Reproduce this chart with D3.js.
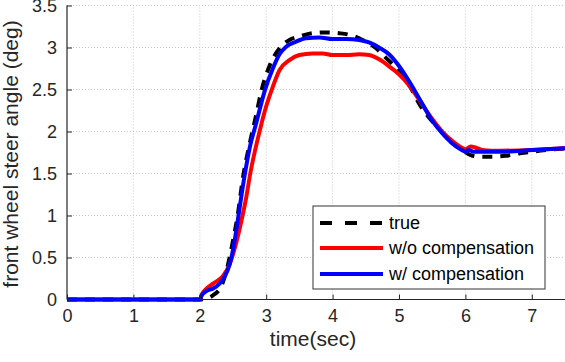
<!DOCTYPE html>
<html>
<head>
<meta charset="utf-8">
<script src="https://cdn.jsdelivr.net/npm/d3@7"></script>
<style>
  body { margin: 0; background: #fff; }
  svg { display: block; font-family: Arial, "Liberation Sans", sans-serif; }
</style>
</head>
<body>
<script>
// time (sec) and steer angle (deg)
var trueT = [0, 2.0, 2.1, 2.2, 2.33, 2.42, 2.5, 2.57, 2.65, 2.75, 2.85, 2.93, 3.05, 3.21, 3.35, 3.5, 3.7, 3.9, 4.1, 4.26, 4.45, 4.64, 4.8, 5.0, 5.17, 5.32, 5.47, 5.62, 5.75, 5.84, 5.95, 6.08, 6.22, 6.4, 6.6, 6.82, 7.0, 7.5];
var trueV = [0, 0, 0.01, 0.05, 0.17, 0.4, 0.7, 1.0, 1.45, 1.85, 2.2, 2.49, 2.78, 3.0, 3.09, 3.13, 3.17, 3.18, 3.17, 3.15, 3.09, 3.0, 2.88, 2.72, 2.53, 2.31, 2.15, 2.02, 1.9, 1.84, 1.78, 1.72, 1.70, 1.70, 1.71, 1.74, 1.76, 1.80];

var woT = [0, 2.0, 2.03, 2.1, 2.2, 2.35, 2.45, 2.55, 2.63, 2.7, 2.76, 2.9, 3.0, 3.08, 3.2, 3.35, 3.5, 3.7, 3.85, 4.0, 4.2, 4.4, 4.55, 4.7, 4.86, 5.0, 5.15, 5.3, 5.5, 5.65, 5.8, 5.92, 6.0, 6.08, 6.15, 6.25, 6.4, 7.0, 7.5];
var woV = [0, 0, 0.06, 0.13, 0.19, 0.28, 0.42, 0.68, 0.95, 1.22, 1.5, 2.0, 2.3, 2.49, 2.73, 2.85, 2.91, 2.93, 2.93, 2.91, 2.91, 2.92, 2.91, 2.86, 2.77, 2.68, 2.55, 2.38, 2.15, 2.0, 1.89, 1.82, 1.79, 1.82, 1.81, 1.78, 1.77, 1.78, 1.80];

var wT = [0, 2.0, 2.03, 2.1, 2.2, 2.3, 2.38, 2.45, 2.5, 2.57, 2.62, 2.68, 2.75, 2.85, 2.98, 3.1, 3.2, 3.3, 3.45, 3.6, 3.8, 4.0, 4.2, 4.4, 4.55, 4.7, 4.85, 5.0, 5.15, 5.3, 5.5, 5.65, 5.8, 5.92, 6.0, 6.05, 6.12, 6.3, 6.6, 7.0, 7.5];
var wV = [0, 0, 0.05, 0.1, 0.13, 0.19, 0.28, 0.42, 0.59, 0.93, 1.2, 1.5, 1.8, 2.1, 2.49, 2.75, 2.92, 3.01, 3.07, 3.11, 3.12, 3.10, 3.10, 3.09, 3.06, 3.0, 2.92, 2.78, 2.6, 2.4, 2.13, 1.98, 1.86, 1.79, 1.76, 1.78, 1.76, 1.76, 1.76, 1.78, 1.80];

var xTicks = [0, 1, 2, 3, 4, 5, 6, 7];
var yTicks = [0, 0.5, 1, 1.5, 2, 2.5, 3, 3.5];
var seriesNames = ['true', 'w/o compensation', 'w/ compensation'];

var w = 565, h = 362;
var svg = d3.select('body').append('svg').attr('width', w).attr('height', h);

var x = d3.scaleLinear().domain([0, 7.5]).range([67, 565]);
var y = d3.scaleLinear().domain([0, 3.5]).range([299.5, 5.5]);

// grid
svg.append('g').selectAll('line').data(xTicks.slice(1)).enter().append('line')
  .attr('x1', function(d){ return x(d); }).attr('x2', function(d){ return x(d); })
  .attr('y1', y(0)).attr('y2', y(3.5))
  .style('stroke', '#c8c8c8').style('stroke-dasharray', '1,2');
svg.append('g').selectAll('line').data(yTicks.slice(1)).enter().append('line')
  .attr('x1', x(0)).attr('x2', w)
  .attr('y1', function(d){ return y(d); }).attr('y2', function(d){ return y(d); })
  .style('stroke', '#c8c8c8').style('stroke-dasharray', '1,2');

var line = d3.line()
  .x(function(d){ return x(d[0]); })
  .y(function(d){ return y(d[1]); })
  .curve(d3.curveMonotoneX);

var series = [
  { pts: d3.zip(trueT, trueV), color: '#000', dash: '10,8' },
  { pts: d3.zip(woT, woV), color: '#ff0000', dash: null },
  { pts: d3.zip(wT, wV), color: '#0000ff', dash: null }
];

series.forEach(function(s){
  svg.append('path')
     .attr('d', line(s.pts))
     .style('fill', 'none')
     .style('stroke', s.color)
     .style('stroke-width', 4)
     .style('stroke-dasharray', s.dash);
});

// axes
var xAxis = d3.axisBottom(x).tickValues(xTicks).tickSize(-5).tickPadding(10).tickFormat(d3.format('d'));
var yAxis = d3.axisLeft(y).tickValues(yTicks).tickSize(-5).tickPadding(10).tickFormat(function(d){ return d; });

var gx = svg.append('g').attr('transform', 'translate(0,' + y(0) + ')').call(xAxis);
var gy = svg.append('g').attr('transform', 'translate(' + x(0) + ',0)').call(yAxis);
[gx, gy].forEach(function(g){
  g.select('.domain').style('stroke', '#262626').style('stroke-width', 1.2);
  g.selectAll('.tick line').style('stroke', '#262626');
  g.selectAll('text').style('font-size', '18px').style('fill', '#262626')
   .style('font-family', 'Arial, "Liberation Sans", sans-serif');
});
gx.select('.domain').attr('d', 'M' + x(0) + ',0H' + w);
gy.select('.domain').attr('d', 'M0,' + y(0) + 'V' + y(3.5));

svg.append('text')
   .attr('x', 313).attr('y', 346)
   .attr('text-anchor', 'middle')
   .style('font-size', '21px').style('fill', '#262626')
   .text('time(sec)');

svg.append('text')
   .attr('transform', 'translate(18,154) rotate(-90)')
   .attr('text-anchor', 'middle')
   .style('font-size', '21px').style('fill', '#262626')
   .text('front wheel steer angle (deg)');

// legend
var lg = svg.append('g');
lg.append('rect')
  .attr('x', 313).attr('y', 206).attr('width', 232).attr('height', 83)
  .style('fill', '#fff').style('stroke', '#333').style('stroke-width', 1);
var rowY = [223, 248, 274];
series.forEach(function(s, i){
  lg.append('line')
    .attr('x1', 320).attr('x2', 383).attr('y1', rowY[i]).attr('y2', rowY[i])
    .style('stroke', s.color).style('stroke-width', 4)
    .style('stroke-dasharray', s.dash ? '12,13' : null);
  lg.append('text')
    .attr('x', 389).attr('y', rowY[i]).attr('dy', '0.35em')
    .style('font-size', '18px').style('fill', '#000')
    .text(seriesNames[i]);
});
</script>
</body>
</html>
